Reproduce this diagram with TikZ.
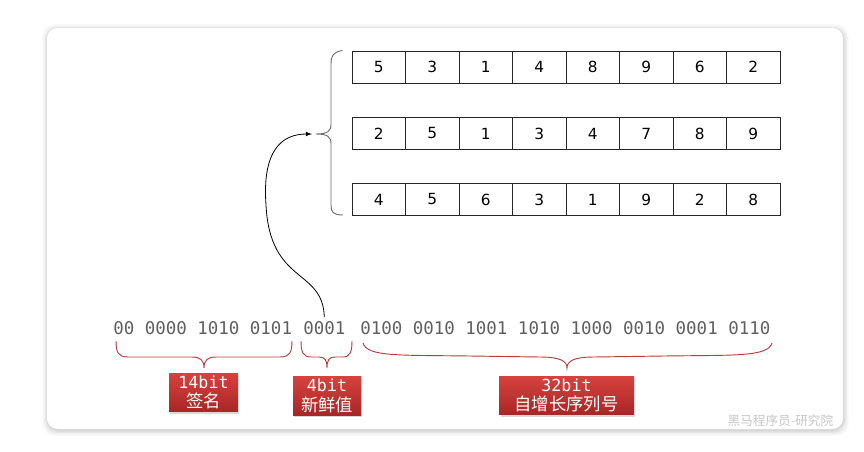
\documentclass[tikz,border=0pt]{standalone}
\usepackage{fontspec}
\setmainfont{DejaVu Sans}
\setmonofont{DejaVu Sans Mono}
\newfontfamily\cjk{Noto Sans CJK SC}
\usetikzlibrary{shadows}
\definecolor{bitgray}{RGB}{95,95,95}
\definecolor{bracered}{RGB}{185,60,60}
\definecolor{boxtop}{RGB}{214,66,62}
\definecolor{boxbot}{RGB}{168,38,38}
\definecolor{bracegray}{RGB}{110,110,110}
\tikzset{
  cell/.style={draw=black!85, line width=0.7pt, minimum width=40.1pt, minimum height=24pt, inner sep=0pt, font=\fontsize{11.5}{13}\selectfont},
  bits/.style={anchor=west, inner sep=0pt, text=bitgray, font=\ttfamily\fontsize{13.1}{15}\selectfont},
  tag/.style={top color=boxtop, bottom color=boxbot, text=white, align=center, inner sep=0pt, minimum height=29pt,
    drop shadow={opacity=0.3, shadow xshift=1pt, shadow yshift=-1.5pt}, font=\fontsize{12.5}{14.5}\selectfont},
}
\begin{document}
\begin{tikzpicture}[x=0.75pt, y=-0.75pt]
				\useasboundingbox (0,0) rectangle (864,451);
				% card
				\foreach \s/\o in {6/0.015,5/0.02,4/0.025,3/0.03,2/0.035,1/0.04}
				  \fill[black, opacity=\o, rounded corners=9] (47-\s+1,28-\s+2) rectangle (843+\s,429+\s+1);
				\fill[white, rounded corners=8] (47,28) rectangle (843,429);
				% arrays
				\foreach \r/\yy/\vals in {1/67/{5,3,1,4,8,9,6,2}, 2/133.5/{2,5,1,3,4,7,8,9}, 3/199.5/{4,5,6,3,1,9,2,8}}
				  \foreach \v [count=\i] in \vals
				    \node[cell] (r\r c\i) at ({352+53.5*(\i-0.5)},\yy) {\v};
				\coordinate (tip) at (316,134);
				\draw[bracegray, line width=0.7pt] (r1c1.north west) ++(-9,0) .. controls (333,52) and (331,56) .. (331,64) -- (331,124)
				  .. controls (331,131) and (328,134) .. (tip) .. controls (328,134) and (331,137) .. (331,144) -- (331,205)
				  .. controls (331,212) and (333,215) .. (343,215);
				% bits
				\node[bits] (sign) at (113,328) {00 0000 1010 0101};
				\node[bits] (fresh) at (303,328) {0001};
				\node[bits] (seq) at (360,328) {0100 0010 1001 1010 1000 0010 0001 0110};
				\draw[-latex, line width=0.6pt, shorten >=3pt] (fresh.north) ++(0,-4) .. controls (323,268) and (270,285) .. (266,205)
				  .. controls (262,150) and (282,134) .. (tip);
				% braces
				\draw[bracered, line width=0.7pt] (116,341) .. controls (116,352) and (118,357) .. (128,357) -- (192,357)
				  .. controls (200,357) and (204,360) .. (204,368) .. controls (204,360) and (208,357) .. (216,357) -- (280,357)
				  .. controls (290,357) and (292,352) .. (292,341);
				\draw[bracered, line width=0.7pt] (301,341) .. controls (301,352) and (303,357) .. (311,357) -- (319,357)
				  .. controls (325,357) and (327,360) .. (327,368) .. controls (327,360) and (329,357) .. (335,357) -- (343,357)
				  .. controls (350,357) and (352,352) .. (352,341);
				\draw[bracered, line width=0.7pt] (363,343) .. controls (367,357) and (400,355) .. (470,356) -- (540,357)
				  .. controls (560,357) and (567,361) .. (567,368) .. controls (567,361) and (574,357) .. (594,357) -- (664,356)
				  .. controls (734,355) and (768,357) .. (772,343);
				% tags
				\node[tag, minimum width=51.7pt] (signtag) at (203.5,392.5) {\texttt{14bit}\\{\cjk\fontsize{13}{14}\selectfont 签名}};
				\node[tag, minimum width=51pt] (freshtag) at (327,396) {\texttt{4bit}\\{\cjk\fontsize{13}{14}\selectfont 新鲜值}};
				\node[tag, minimum width=101pt] (seqtag) at (566.5,395.5) {\texttt{32bit}\\{\cjk\fontsize{13}{14}\selectfont 自增长序列号}};
				\node[text=black!22, font=\cjk\fontsize{9.5}{11}\selectfont, anchor=east] (mark) at (838,421) {黑马程序员-研究院};
				\end{tikzpicture}
\end{document}
